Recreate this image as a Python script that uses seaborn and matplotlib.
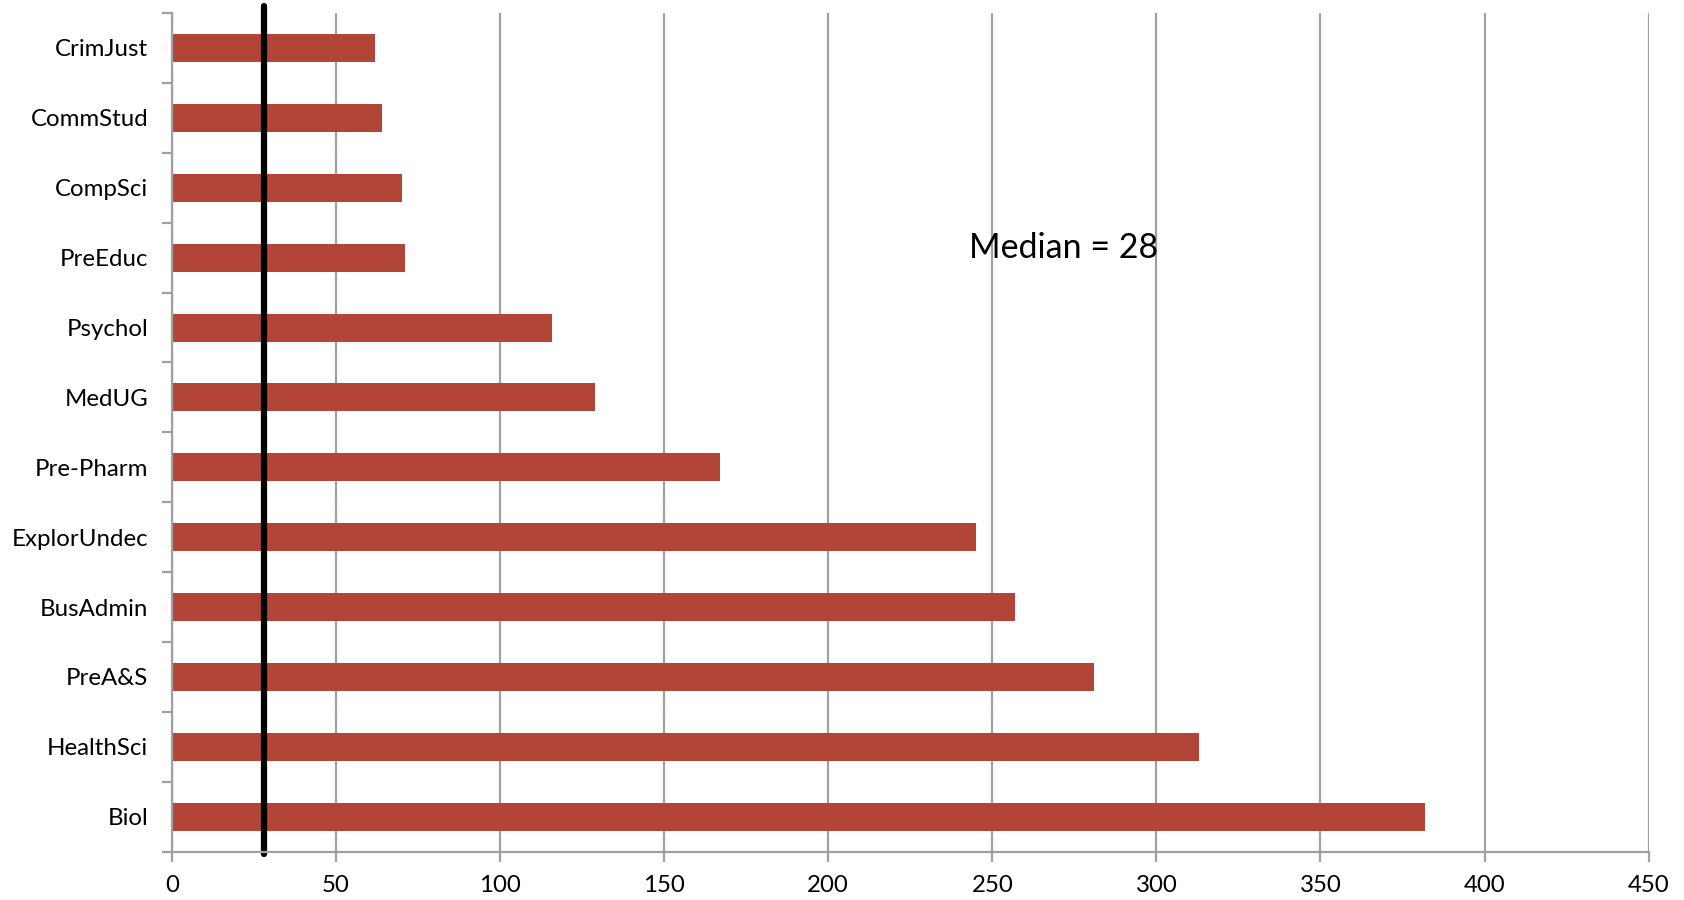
import numpy as np
import pandas as pd
import matplotlib
matplotlib.use("Agg")
import matplotlib.pyplot as plt
import seaborn as sns

# Data (top to bottom)
majors = ["CrimJust", "CommStud", "CompSci", "PreEduc", "Psychol", "MedUG",
          "Pre-Pharm", "ExplorUndec", "BusAdmin", "PreA&S", "HealthSci", "Biol"]
counts = [62, 64, 70, 71, 116, 129, 167, 245, 257, 281, 313, 382]
median_value = 28
x_ticks = [0, 50, 100, 150, 200, 250, 300, 350, 400, 450]

df = pd.DataFrame({"major": majors, "count": counts})

sns.set_theme(style="white")
plt.rcParams["font.family"] = ["Lato", "DejaVu Sans"]

grid_color = "#A0A0A0"
bar_color = "#B24537"

fig = plt.figure(figsize=(16.84, 9), dpi=100)
ax = fig.add_axes([0.102, 0.0537, 0.877, 0.9318])

# vertical gridlines behind bars
ax.set_axisbelow(True)
sns.barplot(data=df, x="count", y="major", orient="h", color=bar_color,
            width=0.4, saturation=1, ax=ax, edgecolor="none")

ax.set_xlim(0, 450)
ax.set_ylim(len(majors) - 0.5, -0.5)
ax.set_xticks(x_ticks)
ax.set_xticklabels([str(t) for t in x_ticks])
ax.xaxis.grid(True, color=grid_color, linewidth=1.6)
ax.yaxis.grid(False)

# category boundary ticks on the y axis
ax.set_yticks(np.arange(-0.5, len(majors), 1.0), minor=True)
ax.tick_params(axis="y", which="major", length=0, pad=17, labelsize=17.3, colors="black")
ax.tick_params(axis="y", which="minor", left=True, length=7, width=1.6, color=grid_color)
ax.tick_params(axis="x", which="major", bottom=True, length=7, width=1.6,
               color=grid_color, pad=10, labelsize=17.3, labelcolor="black")

for side in ["top", "right"]:
    ax.spines[side].set_visible(False)
for side in ["left", "bottom"]:
    ax.spines[side].set_color(grid_color)
    ax.spines[side].set_linewidth(1.6)

ax.set_xlabel("")
ax.set_ylabel("")

# median line
ax.axvline(median_value, ymin=-0.003, ymax=1.008, color="black", linewidth=4.5, clip_on=False)
ax.text(243, 2.86, f"Median = {median_value}", fontsize=24.5, va="center", ha="left", color="black")

fig.savefig("out.png", dpi=100)
